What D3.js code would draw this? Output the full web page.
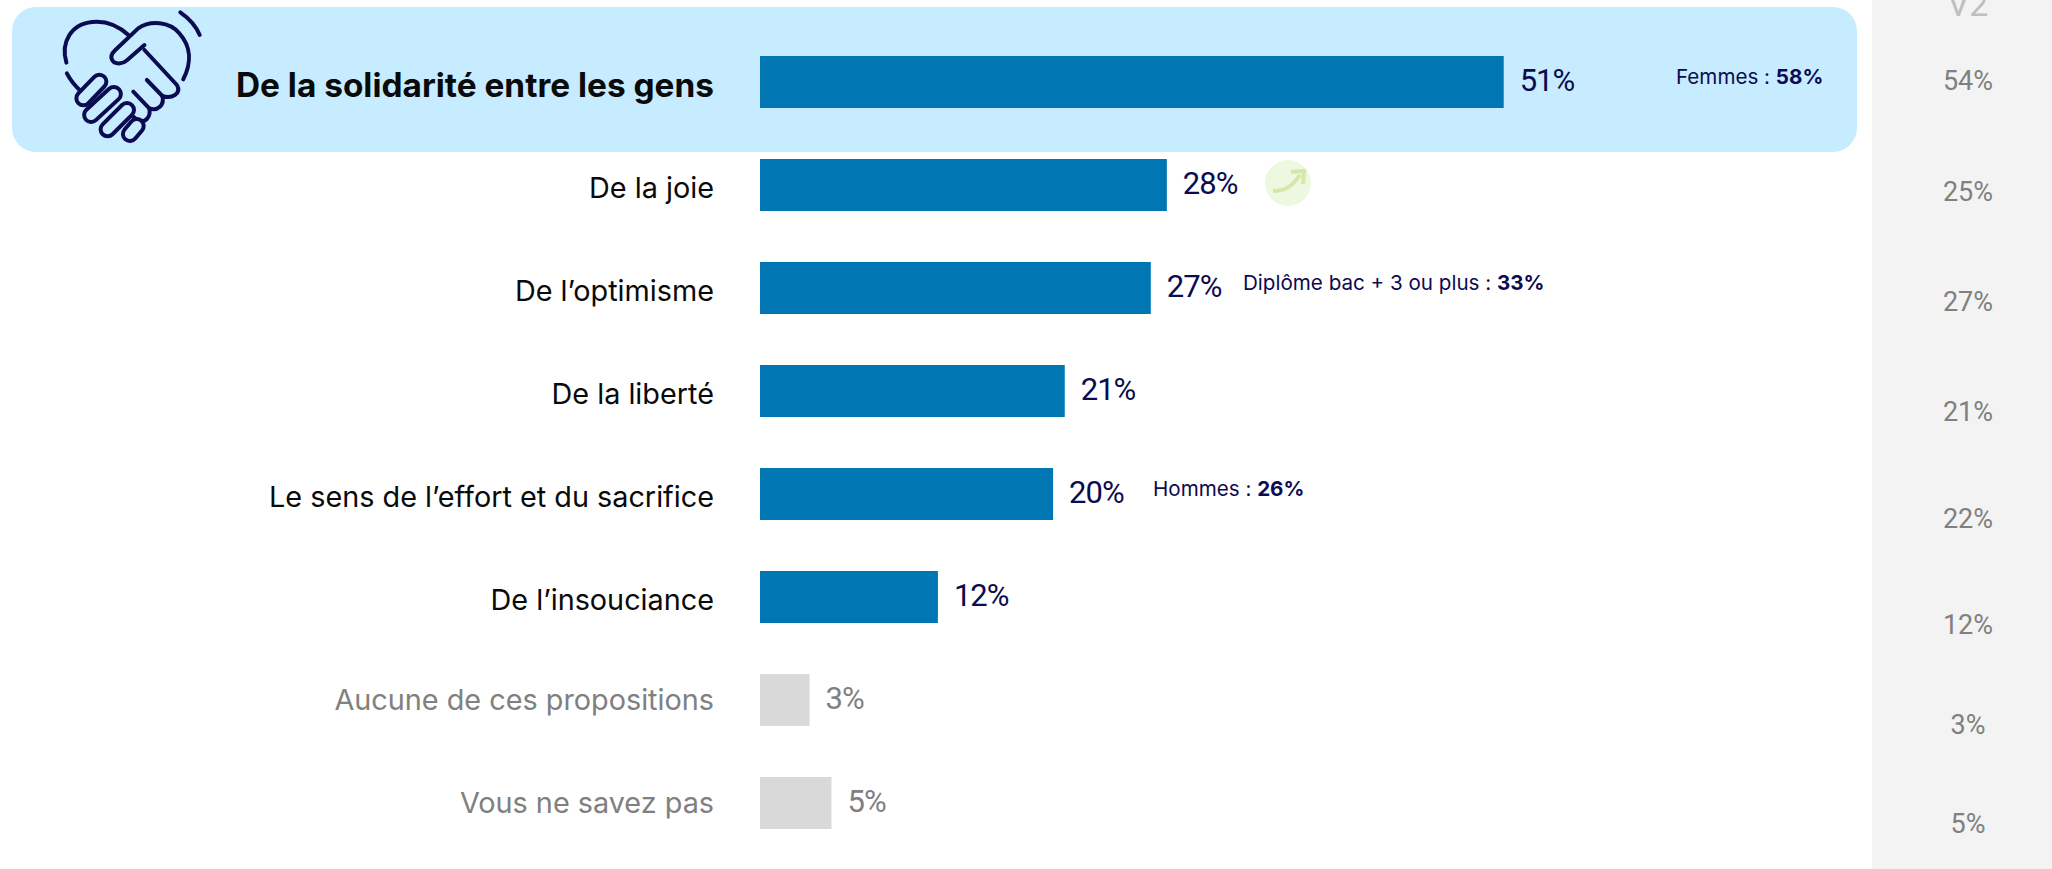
<!DOCTYPE html>
<html lang="fr">
<head>
<meta charset="utf-8">
<script src="https://cdn.jsdelivr.net/npm/d3@7"></script>
<style>
  html, body { margin: 0; padding: 0; background: #fff; overflow: hidden; }
  svg { display: block; }
  .cat { font-family: Inter, sans-serif; font-size: 28.8px; }
  .val { font-family: Roboto, sans-serif; font-size: 31px; letter-spacing: -1px; }
  .prev { font-size: 27px; letter-spacing: 0; }
  .note { font-family: Inter, sans-serif; font-size: 20.6px; fill: #0b0b52; }
</style>
</head>
<body>
<div id="chart"></div>
<script>
// Chart data.
const categories = [
  "De la solidarité entre les gens",
  "De la joie",
  "De l’optimisme",
  "De la liberté",
  "Le sens de l’effort et du sacrifice",
  "De l’insouciance",
  "Aucune de ces propositions",
  "Vous ne savez pas"
];
const barValues = [51, 27.9, 26.8, 20.9, 20.1, 12.2, 3.4, 4.9]; // bar lengths as drawn
const shownValues = [51, 28, 27, 21, 20, 12, 3, 5];
const previousValues = [54, 25, 27, 21, 22, 12, 3, 5];
const previousTitle = "V2";
const mutedCategories = ["Aucune de ces propositions", "Vous ne savez pas"];
const notes = [
  { category: "De la solidarité entre les gens", label: "Femmes : ", value: "58%" },
  { category: "De l’optimisme", label: "Diplôme bac + 3 ou plus : ", value: "33%" },
  { category: "Le sens de l’effort et du sacrifice", label: "Hommes : ", value: "26%" }
];
const risingCategories = ["De la joie"];

const width = 2052, height = 869;
const navy = "#0b0b52", blue = "#0077b3", muted = "#808080", band = "#c7ecff";

const svg = d3.select("#chart").append("svg")
  .attr("width", width)
  .attr("height", height);

// Bar scales.
const x = d3.scaleLinear().domain([0, 51]).range([760, 1503.7]);
const y = d3.scaleBand()
  .domain(categories)
  .range([56, 829])
  .paddingInner(51 / 103)
  .paddingOuter(0);
const barH = y.bandwidth();

// Right-hand column, rows are not quite evenly spaced in the original.
const yPrev = d3.scaleLinear().domain([0, 3, 5, 7]).range([81, 412, 625, 824]);

// Grey panel and highlight band.
svg.append("rect")
  .attr("x", 1872).attr("y", 0)
  .attr("width", width - 1872).attr("height", height)
  .attr("fill", "#f3f3f3");

svg.append("rect")
  .attr("x", 12).attr("y", 7)
  .attr("width", 1845).attr("height", 145)
  .attr("rx", 24)
  .attr("fill", band);

// Bars.
svg.selectAll("rect.bar")
  .data(categories)
  .enter()
  .append("rect")
  .attr("class", "bar")
  .attr("x", x(0))
  .attr("y", d => y(d))
  .attr("width", (d, i) => x(barValues[i]) - x(0))
  .attr("height", barH)
  .attr("fill", d => mutedCategories.includes(d) ? "#d9d9d9" : blue);

// Category labels.
svg.selectAll("text.cat")
  .data(categories)
  .enter()
  .append("text")
  .attr("class", "cat")
  .attr("x", 714)
  .attr("y", d => y(d) + barH / 2 + (mutedCategories.includes(d) ? 0 : 3))
  .attr("dy", "0.35em")
  .attr("text-anchor", "end")
  .style("font-size", (d, i) => i === 0 ? "33.4px" : null)
  .attr("font-weight", (d, i) => i === 0 ? 700 : 400)
  .attr("fill", d => mutedCategories.includes(d) ? muted : "#0a0a0a")
  .text(d => d);

// Value labels.
svg.selectAll("text.val")
  .data(categories)
  .enter()
  .append("text")
  .attr("class", "val")
  .attr("x", (d, i) => x(barValues[i]) + 16)
  .attr("y", d => y(d) + barH / 2 - 2)
  .attr("dy", "0.35em")
  .attr("fill", d => mutedCategories.includes(d) ? muted : navy)
  .text((d, i) => shownValues[i] + "%");

// Subgroup notes.
const noteX = { "Femmes : ": 1676, "Diplôme bac + 3 ou plus : ": 1243, "Hommes : ": 1153 };
const noteText = svg.selectAll("text.note")
  .data(notes)
  .enter()
  .append("text")
  .attr("class", "note")
  .attr("x", d => noteX[d.label])
  .attr("y", d => y(d.category) + barH / 2 - 5)
  .attr("dy", "0.35em");
noteText.append("tspan").attr("xml:space", "preserve").text(d => d.label);
noteText.append("tspan").attr("font-weight", 700).text(d => d.value);

// Previous wave column.
svg.append("text")
  .attr("x", 1968).attr("y", 16)
  .attr("text-anchor", "middle")
  .style("font-family", "Roboto, sans-serif")
  .style("font-size", "34px")
  .attr("fill", "#bfbfbf")
  .text(previousTitle);

svg.selectAll("text.prev")
  .data(previousValues)
  .enter()
  .append("text")
  .attr("class", "val prev")
  .attr("x", 1968)
  .attr("y", (d, i) => yPrev(i))
  .attr("dy", "0.35em")
  .attr("text-anchor", "middle")
  .attr("fill", muted)
  .text(d => d + "%");

// Rising arrow badge.
risingCategories.forEach(c => {
  const g = svg.append("g").attr("transform", `translate(1288,${y(c) + 24})`);
  g.append("circle").attr("r", 23).attr("fill", "#eef7e0");
  g.append("path")
    .attr("d", "M-15,8 C-4,8 4,4 12,-8")
    .attr("fill", "none")
    .attr("stroke", "#d5e8a8")
    .attr("stroke-width", 4);
  g.append("path")
    .attr("d", "M3,-11 L16,-12 L15,1")
    .attr("fill", "none")
    .attr("stroke", "#d5e8a8")
    .attr("stroke-width", 4);
});

const icon = svg.append("g")
  .attr("transform", "scale(0.4847,0.3333)")
  .attr("fill", "none")
  .attr("stroke-linecap", "round")
  .attr("stroke-linejoin", "round");

const capsules = [
  [[205, 245], [172, 295]],
  [[235, 282], [188, 345]],
  [[262, 330], [222, 388]],
  [[282, 378], [268, 402]]
];
const outline = [
  "M137 188 C125 130 145 65 200 65 C230 65 250 85 265 105",
  "M378 238 C395 190 395 140 370 100 C350 65 310 60 285 85 L238 150 C222 172 232 192 248 190 C254 190 258 186 262 181 L298 135",
  "M298 150 L365 255 C375 280 355 298 335 288 L303 240",
  "M335 288 C340 315 325 335 308 325 L275 275",
  "M308 325 C312 350 300 370 285 362 L262 335",
  "M138 220 C145 240 155 258 168 275",
  "M372 37 C390 55 405 80 412 105"
];
icon.selectAll("path.line")
  .data(outline)
  .enter()
  .append("path")
  .attr("class", "line")
  .attr("d", d => d)
  .attr("stroke", navy)
  .attr("stroke-width", 4)
  .attr("vector-effect", "non-scaling-stroke");

const capsuleLine = d3.line();
capsules.forEach(c => {
  icon.append("path").attr("d", capsuleLine(c)).attr("stroke", navy)
    .attr("stroke-width", 18).attr("vector-effect", "non-scaling-stroke");
  icon.append("path").attr("d", capsuleLine(c)).attr("stroke", band)
    .attr("stroke-width", 10).attr("vector-effect", "non-scaling-stroke");
});
</script>
</body>
</html>
